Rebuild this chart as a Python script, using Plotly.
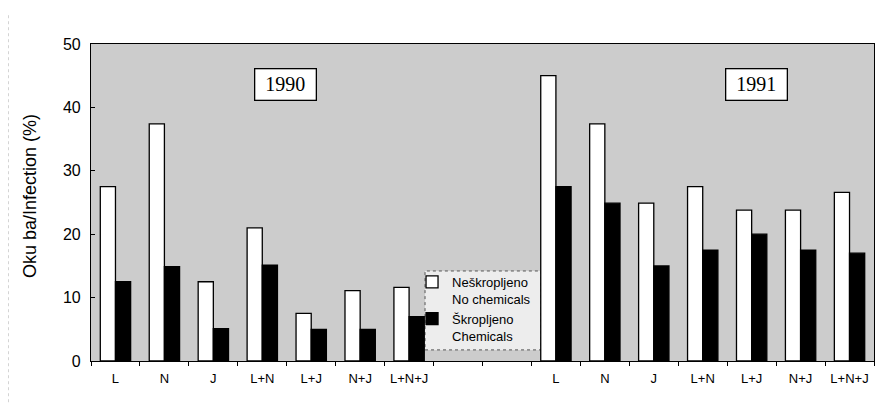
import plotly.graph_objects as go

# ---- data ----
treatments = ["L", "N", "J", "L+N", "L+J", "N+J", "L+N+J"]
years = ["1990", "1991"]
no_chem_1990 = [27.5, 37.4, 12.5, 21.0, 7.5, 11.1, 11.6]
chem_1990 = [12.5, 14.9, 5.1, 15.1, 5.0, 5.0, 7.0]
no_chem_1991 = [45.0, 37.4, 24.9, 27.5, 23.8, 23.8, 26.6]
chem_1991 = [27.5, 24.9, 15.0, 17.5, 20.0, 17.5, 17.0]
series_names = ["Neškropljeno<br>No chemicals", "Škropljeno<br>Chemicals"]
y_title = "Oku ba/Infection (%)"

# slot positions: 1990 group, two empty slots, 1991 group
n = len(treatments)
gap_slots = 2
x1990 = list(range(n))
x1991 = [n + gap_slots + i for i in range(n)]
xs = x1990 + x1991
no_chem = no_chem_1990 + no_chem_1991
chem = chem_1990 + chem_1991
labels = treatments + treatments

fig = go.Figure()
fig.add_trace(go.Bar(
    x=xs, y=no_chem, name=series_names[0],
    marker=dict(color="white", line=dict(color="black", width=1.3)),
))
fig.add_trace(go.Bar(
    x=xs, y=chem, name=series_names[1],
    marker=dict(color="black", line=dict(color="black", width=1.3)),
))

font_sans = "Arial, Liberation Sans, sans-serif"
font_serif = "Times New Roman, Liberation Serif, serif"

fig.update_layout(
    width=880, height=402,
    margin=dict(l=83, r=14, t=36, b=49),
    paper_bgcolor="white",
    plot_bgcolor="#cccccc",
    barmode="group",
    bargap=0.38,
    bargroupgap=0,
    showlegend=True,
    font=dict(family=font_sans, color="black", size=13),
    legend=dict(
        x=0.41, y=0.297, xanchor="left", yanchor="top",
        bgcolor="rgba(0,0,0,0)", borderwidth=0,
        font=dict(family=font_sans, size=13, color="black"),
        itemwidth=30, tracegroupgap=2, valign="top",
        traceorder="normal",
    ),
    xaxis=dict(
        range=[-0.5, len(xs) + gap_slots - 0.5],
        tickmode="array", tickvals=xs, ticktext=labels,
        ticks="", showgrid=False, zeroline=False,
        showline=True, linecolor="black", linewidth=1.2, mirror=True,
        tickfont=dict(family=font_sans, size=13),
        ticklabelstandoff=5,
        minor=dict(tickmode="linear", tick0=-0.5, dtick=1, ticks="outside",
                   ticklen=4, tickcolor="black", tickwidth=1, showgrid=False),
    ),
    yaxis=dict(
        range=[0, 50], tickmode="linear", tick0=0, dtick=10,
        ticks="inside", ticklen=4, tickcolor="black",
        showgrid=False, zeroline=False,
        showline=True, linecolor="black", linewidth=1.2, mirror=True,
        tickfont=dict(family=font_sans, size=16),
        ticklabelstandoff=6,
    ),
)

# y-axis title
fig.add_annotation(
    text=y_title, xref="paper", yref="paper", x=-0.078, y=0.52,
    xanchor="center", yanchor="middle", textangle=-90, showarrow=False,
    font=dict(family=font_sans, size=18, color="black"),
)

# year boxes
for yr, xc in zip(years, [3.48, 13.1]):
    fig.add_annotation(
        text=yr, x=xc, y=43.6, xref="x", yref="y", showarrow=False,
        bgcolor="white", bordercolor="black", borderwidth=1.3,
        width=58, height=28,
        font=dict(family=font_serif, size=20, color="black"),
    )

# legend box (light fill, dotted border)
fig.add_shape(
    type="rect", xref="paper", yref="paper",
    x0=0.4266, x1=0.5747, y0=0.035, y1=0.284,
    fillcolor="#ededed",
    line=dict(color="#555555", width=1, dash="dot"), layer="below",
)

# faint dotted scan frame at left
fig.add_shape(type="line", xref="paper", yref="paper",
              x0=-0.106, x1=-0.106, y0=-0.13, y1=1.1,
              line=dict(color="#aaaaaa", width=1, dash="dot"))

fig.write_html("out.html")
